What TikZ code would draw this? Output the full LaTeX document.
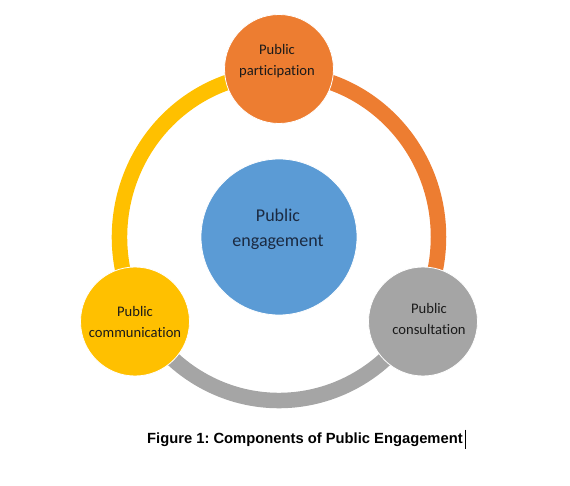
\documentclass[tikz,border=0pt]{standalone}
\usepackage{fontspec}
\setmainfont[Ligatures=NoCommon]{Carlito}
\newfontfamily\capfont{Liberation Sans}
\frenchspacing
\definecolor{pOrange}{HTML}{ED7D31}
\definecolor{pGray}{HTML}{A5A5A5}
\definecolor{pYellow}{HTML}{FFC000}
\definecolor{pBlue}{HTML}{5B9BD5}
\definecolor{pText}{HTML}{1A1A1A}
\definecolor{pNavy}{HTML}{1B2A41}
\begin{document}
\begin{tikzpicture}[x=1pt,y=-1pt,
  ringarc/.style={line width=15.5pt},
  bubble/.style={circle,draw=white,line width=0.8pt,inner sep=0pt,minimum size=#1},
  smalltxt/.style={align=center,text=pText,font=\fontsize{14.6}{21}\selectfont},
  bigtxt/.style={align=center,text=pNavy,font=\fontsize{18}{25}\selectfont}]
\useasboundingbox (0,0) rectangle (570,486);
\coordinate (ringc) at (279,237);
% ring arcs (y axis points down, so angles run clockwise on screen)
\draw[ringarc,pYellow] (ringc) ++(150:159.5 and 163.5) arc[start angle=150,end angle=270,x radius=159.5,y radius=163.5];
\draw[ringarc,pOrange] (ringc) ++(270:159.5 and 163.5) arc[start angle=270,end angle=390,x radius=159.5,y radius=163.5];
\draw[ringarc,pGray] (ringc) ++(30:159.5 and 163.5) arc[start angle=30,end angle=150,x radius=159.5,y radius=163.5];
% bubbles
\node[bubble=156pt,fill=pBlue] (eng) at (279,237) {};
\node[bubble=109pt,fill=pOrange] (part) at (279,69) {};
\node[bubble=109pt,fill=pYellow] (comm) at (135,321.5) {};
\node[bubble=109pt,fill=pGray] (cons) at (423,321.5) {};
% texts
\node[bigtxt] (engT) at (278,229.5) {Public\\engagement};
\node[smalltxt] (partT) at (277,61) {Public\\participation};
\node[smalltxt] (commT) at (135,322) {Public\\communication};
\node[smalltxt] (consT) at (429,318.5) {Public\\consultation};
% caption
\node[font=\capfont\bfseries\fontsize{14.75}{16}\selectfont,anchor=base west,inner sep=0pt] (cap) at (147,443) {Figure 1: Components of Public Engagement};
\draw[line width=0.6pt] (cap.east) ++(2.5,-9.5) coordinate (curA) -- ++(0,19) coordinate (curB);
\end{tikzpicture}
\end{document}
